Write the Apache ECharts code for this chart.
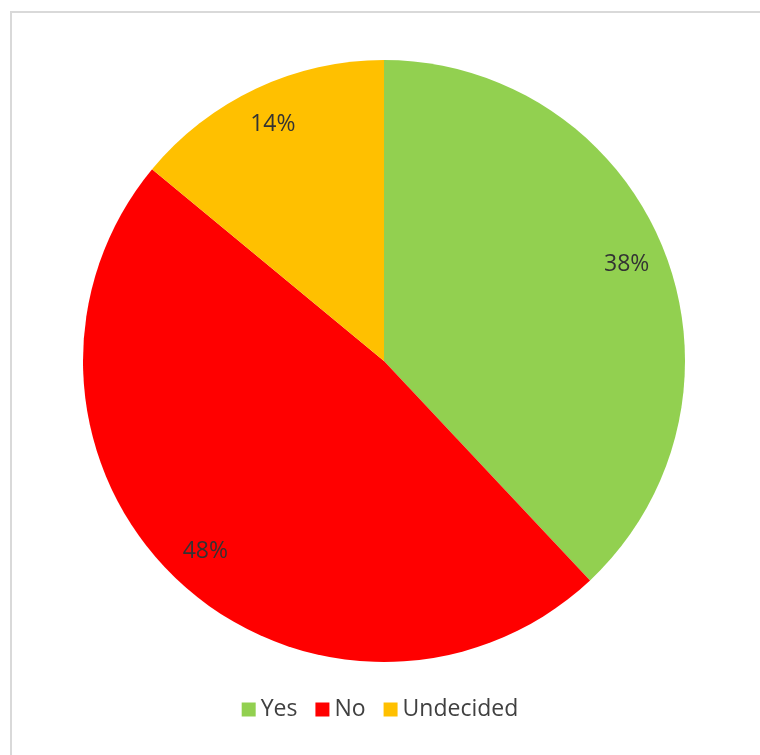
<!DOCTYPE html>
<html>
<head>
<meta charset="utf-8">
<script src="https://cdn.jsdelivr.net/npm/echarts@6/dist/echarts.min.js"></script>
<style>
  html, body { margin: 0; padding: 0; background: #fff; }
  #main { width: 760px; height: 755px; }
</style>
</head>
<body>
<div id="main"></div>
<script>
var categories = ["Yes", "No", "Undecided"];
var shares = [38, 48, 14];
var colors = ["#92d050", "#ff0000", "#ffc000"];

var pieData = categories.map(function (c, i) {
  return { name: c, value: shares[i], itemStyle: { color: colors[i] } };
});
// same slices again, transparent, just to put the labels near the rim
var labelData = categories.map(function (c, i) {
  return { name: c, value: shares[i] };
});

var chart = echarts.init(document.getElementById("main"));
chart.setOption({
  animation: false,
  textStyle: { fontFamily: "Open Sans" },
  graphic: [{
    type: "rect",
    shape: { x: 11, y: 12, width: 900, height: 900 },
    style: { fill: "none", stroke: "#d9d9d9", lineWidth: 2 },
    silent: true
  }],
  legend: {
    data: categories,
    top: 693,
    left: "center",
    icon: "rect",
    itemWidth: 14,
    itemHeight: 14,
    itemGap: 18,
    textStyle: { color: "#404040", fontSize: 23, fontFamily: "Open Sans" }
  },
  series: [{
    type: "pie",
    center: [384, 361],
    radius: [0, 301],
    startAngle: 90,
    clockwise: true,
    label: { show: false },
    labelLine: { show: false },
    emphasis: { disabled: true },
    data: pieData
  }, {
    type: "pie",
    center: [384, 361],
    radius: [215, 301],
    startAngle: 90,
    clockwise: true,
    silent: true,
    itemStyle: { color: "transparent" },
    label: {
      show: true,
      position: "inside",
      formatter: "{d}%",
      color: "#333333",
      fontSize: 23,
      fontFamily: "Open Sans"
    },
    labelLine: { show: false },
    emphasis: { disabled: true },
    data: labelData
  }]
});
</script>
</body>
</html>
